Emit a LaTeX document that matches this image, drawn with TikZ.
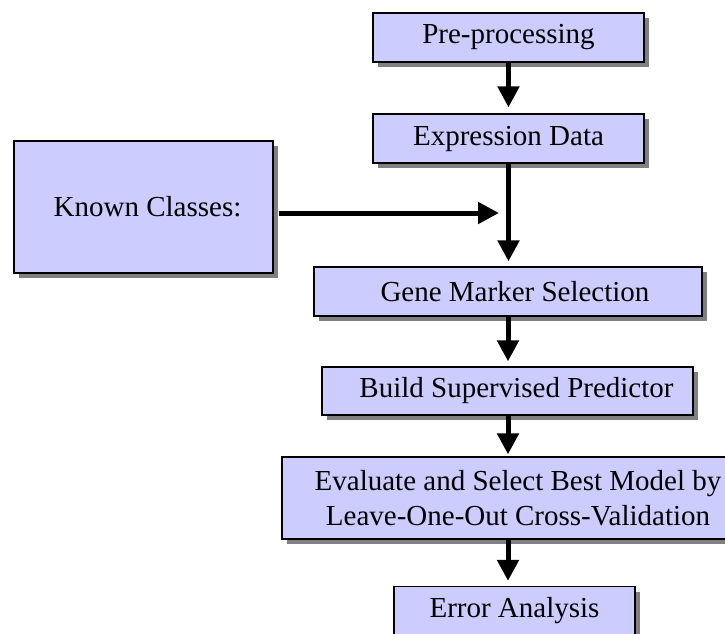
\documentclass[tikz,border=0pt]{standalone}
\usepackage{fontspec}
\setmainfont{Liberation Serif}
\usetikzlibrary{arrows.meta,shadows}
\definecolor{boxfill}{HTML}{CCCCFF}
\definecolor{shadowgray}{HTML}{808080}
\begin{document}
\begin{tikzpicture}[x=1pt,y=-1pt,
  stepbox/.style={draw=black, line width=1.3pt, fill=boxfill, inner sep=0pt,
    align=center, font=\fontsize{29}{35}\selectfont,
    drop shadow={shadow xshift=5pt, shadow yshift=-5pt, fill=shadowgray, opacity=1}},
  flow/.style={line width=5pt, -{Triangle[width=21pt,length=21pt]}}
]
\useasboundingbox (0,0) rectangle (725,634);

% process boxes
\node[stepbox, minimum width=271pt, minimum height=49pt] (pre)   at (508.5,37.5)  {Pre-processing};
\node[stepbox, minimum width=271pt, minimum height=49pt] (expr)  at (508.5,138.5) {Expression Data};
\node[stepbox, minimum width=259pt, minimum height=132pt] (known) at (143.5,207)  {\raisebox{-3pt}{\hspace*{8pt}Known Classes:}};
\node[stepbox, minimum width=388pt, minimum height=49pt] (gene)  at (508,291.5)   {\hspace*{14pt}Gene Marker Selection};
\node[stepbox, minimum width=371pt, minimum height=48pt] (build) at (507.5,391)   {\hspace*{18pt}Build Supervised Predictor};
\node[stepbox, minimum width=452pt, minimum height=82pt] (eval)  at (508,498)     {\hspace*{20pt}Evaluate and Select Best Model by\\\hspace*{20pt}Leave-One-Out Cross-Validation};
\node[stepbox, minimum width=241pt, minimum height=49pt] (err)   at (514.5,611)   {Error Analysis};

% junction where the known classes join the main flow
\coordinate (join) at (508,213);

% connectors
\draw[flow, shorten >=6pt] (pre.south) -- (pre.south |- expr.north);
\draw[flow, shorten >=5pt] (expr.south) -- (expr.south |- gene.north);
\draw[flow, shorten <=5pt, shorten >=9pt] (known.east |- join) -- (join);
\draw[flow, shorten >=5pt] (gene.south) -- (gene.south |- build.north);
\draw[flow, shorten >=2pt] (build.south -| eval.south) -- (eval.north);
\draw[flow, shorten >=5pt] (eval.south) -- (eval.south |- err.north);
\end{tikzpicture}
\end{document}
